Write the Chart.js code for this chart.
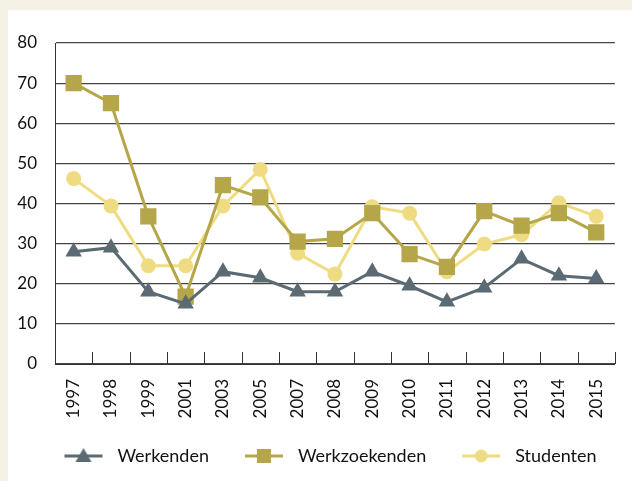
<!DOCTYPE html>
<html>
<head>
<meta charset="utf-8">
<script src="https://cdn.jsdelivr.net/npm/chart.js@4.4.1/dist/chart.umd.min.js"></script>
<style>
  html, body { margin: 0; padding: 0; background: #f5f1e4; }
  #wrap { position: absolute; left: 8px; top: 10px; width: 624px; height: 471px; background: #fff; }
</style>
</head>
<body>
<div id="wrap"><canvas id="chart" width="624" height="471"></canvas></div>
<script>
const years = ["1997", "1998", "1999", "2001", "2003", "2005", "2007", "2008", "2009", "2010", "2011", "2012", "2013", "2014", "2015"];
const werkenden = [28, 29, 18, 15, 23, 21.5, 18, 18, 23, 19.5, 15.5, 19, 26.2, 22, 21.3];
const werkzoekenden = [70, 65, 36.8, 16.8, 44.6, 41.5, 30.5, 31.2, 37.6, 27.4, 24.2, 38.1, 34.5, 37.6, 32.8];
const studenten = [46.2, 39.4, 24.5, 24.5, 39.4, 48.5, 27.6, 22.4, 39.2, 37.6, 23, 29.9, 32.2, 40.2, 36.8];
const yTicks = [0, 10, 20, 30, 40, 50, 60, 70, 80];

const colSlate = "#5b6a73";
const colOlive = "#b4a649";
const colYellow = "#efdc82";
const FONT = "Lato";

// little canvas images for the legend: blank gap, then a line with the marker in its middle
function legendIcon(color, style) {
    const c = document.createElement("canvas");
    c.width = 70; c.height = 18;
    const g = c.getContext("2d");
    g.translate(26, 0);
    g.strokeStyle = color; g.fillStyle = color; g.lineWidth = 3;
    g.beginPath(); g.moveTo(0, 9); g.lineTo(38, 9); g.stroke();
    g.beginPath();
    if (style === "triangle") {
        g.moveTo(19, 1); g.lineTo(27, 15); g.lineTo(11, 15); g.closePath();
    } else if (style === "rect") {
        g.rect(12, 2, 14, 14);
    } else {
        g.arc(19, 9, 6.5, 0, Math.PI * 2);
    }
    g.fill();
    return c;
}
const icons = [legendIcon(colSlate, "triangle"), legendIcon(colOlive, "rect"), legendIcon(colYellow, "circle")];

// short tick marks pointing up from the x axis, between the categories
const innerTicks = {
    id: "innerTicks",
    afterDatasetsDraw(chart) {
        const x = chart.scales.x, a = chart.chartArea, ctx = chart.ctx;
        ctx.save();
        ctx.strokeStyle = "#333"; ctx.lineWidth = 1;
        for (let i = 0; i <= years.length; i++) {
            const px = Math.round(x.getPixelForValue(i - 0.5)) + 0.5;
            ctx.beginPath(); ctx.moveTo(px, a.bottom); ctx.lineTo(px, a.bottom - 12); ctx.stroke();
        }
        ctx.restore();
    }
};

// nudge the legend row sideways, like the original
const legendShift = {
    id: "legendShift",
    afterLayout(chart) {
        chart.legend.left -= 1;
        chart.legend.right -= 1;
    }
};

function ds(label, data, color, style, radius) {
    return {
        label: label, data: data,
        borderColor: color, backgroundColor: color,
        borderWidth: 3,
        pointStyle: style, pointRadius: radius, pointHoverRadius: radius,
        pointBackgroundColor: color, pointBorderColor: color, pointBorderWidth: 0,
        tension: 0
    };
}

new Chart(document.getElementById("chart"), {
    type: "line",
    data: {
        labels: years,
        datasets: [
            ds("Werkenden", werkenden, colSlate, "triangle", 9.5),
            ds("Werkzoekenden", werkzoekenden, colOlive, "rect", 11.5),
            ds("Studenten", studenten, colYellow, "circle", 7.5)
        ]
    },
    options: {
        responsive: false,
        animation: false,
        layout: { padding: { top: 33, right: 3, left: 0, bottom: 6 } },
        scales: {
            x: {
                offset: true,
                grid: { display: false, drawTicks: false },
                border: { display: true, color: "#333", width: 1 },
                ticks: { color: "#111", font: { family: FONT, size: 17 }, minRotation: 90, maxRotation: 90, padding: 15 },
                afterFit(s) { s.height = 73; }
            },
            y: {
                min: 0, max: 80,
                afterBuildTicks(s) { s.ticks = yTicks.map(v => ({ value: v })); },
                grid: { color: "#444", lineWidth: 1.2, drawTicks: false },
                border: { display: true, color: "#333", width: 1 },
                ticks: { color: "#111", font: { family: FONT, size: 17 }, padding: 18 },
                afterFit(s) { s.width = 47; }
            }
        },
        plugins: {
            tooltip: { enabled: false },
            legend: {
                position: "bottom",
                labels: {
                    color: "#111",
                    font: { family: FONT, size: 18 },
                    usePointStyle: true,
                    pointStyleWidth: 70,
                    padding: 10,
                    generateLabels(chart) {
                        const items = Chart.defaults.plugins.legend.labels.generateLabels(chart);
                        items.forEach((it, i) => { it.pointStyle = icons[i]; });
                        return items;
                    }
                }
            }
        }
    },
    plugins: [innerTicks, legendShift]
});
</script>
</body>
</html>
